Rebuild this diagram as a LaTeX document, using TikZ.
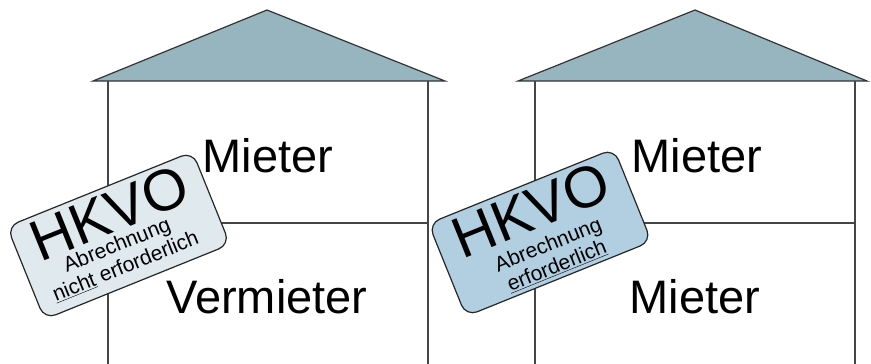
\documentclass[tikz,border=0pt]{standalone}
\usepackage{fontspec}
\setmainfont{Liberation Sans}
\usepackage{tikz}
\usetikzlibrary{positioning}
\definecolor{roofblue}{RGB}{151,181,191}
\definecolor{stamppale}{RGB}{223,233,238}
\definecolor{stampblue}{RGB}{178,207,226}
\definecolor{wallgrey}{RGB}{70,70,70}
\tikzset{
  roof/.style={draw=black!80, fill=roofblue, line width=1.2pt},
  wall/.style={draw=wallgrey, line width=1.3pt},
  tenant/.style={anchor=base, inner sep=0pt, font=\fontsize{47}{47}\selectfont},
  stamp/.style={rectangle, draw=black!85, line width=1.2pt, rounded corners=12pt,
    minimum width=200pt, minimum height=100pt, inner sep=0pt},
  stamptitle/.style={inner sep=0pt, font=\fontsize{58}{58}\selectfont},
  stampnote/.style={inner sep=0pt, align=center, font=\fontsize{21}{23}\selectfont}
}

\begin{document}
\begin{tikzpicture}[x=1pt, y=-1pt]
\useasboundingbox (0,0) rectangle (871,364);

% roofs
\draw[roof] (93,81) -- (267,10) -- (445,81) -- cycle;
\draw[roof] (518,81) -- (695,10) -- (867,81) -- cycle;

% walls and floors
\draw[wall] (108,81) -- (108,364);
\draw[wall] (428,81) -- (428,364);
\draw[wall] (108,223) -- (428,223);
\draw[wall] (535,81) -- (535,364);
\draw[wall] (855,81) -- (855,364);
\draw[wall] (535,223) -- (855,223);

% tenants
\node[tenant] (upL) at (268,172) {Mieter};
\node[tenant] (downL) at (267,313) {Vermieter};
\node[tenant] (upR) at (697,172) {Mieter};
\node[tenant] (downR) at (695,313) {Mieter};

% stamp left
\begin{scope}[shift={(118.5,235.5)}, rotate=22, transform shape]
\node[stamp, fill=stamppale] (stampL) at (0,0) {};
\node[stamptitle] (hkvoL) at (0,-24) {HKVO};
\node[stampnote] (noteL) at (-5,20) {Abrechnung\\\underline{nicht} erforderlich};
\end{scope}

% stamp right
\begin{scope}[shift={(540,232.5)}, rotate=22, transform shape]
\node[stamp, fill=stampblue] (stampR) at (0,0) {};
\node[stamptitle] (hkvoR) at (0,-24) {HKVO};
\node[stampnote] (noteR) at (3,26) {Abrechnung\\\underline{erforderlich}};
\end{scope}

\end{tikzpicture}
\end{document}
